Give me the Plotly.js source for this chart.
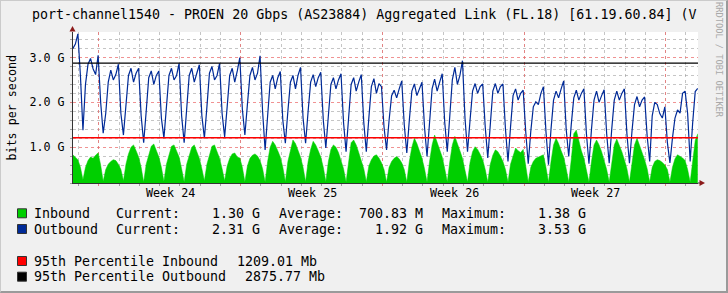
<!DOCTYPE html>
<html><head><meta charset="utf-8">
<script src="https://cdn.plot.ly/plotly-3.0.1.min.js"></script>
<style>
html,body{margin:0;padding:0;background:#F0F0F0;}
#wrap{position:relative;width:728px;height:293px;overflow:hidden;}
#chart{position:absolute;left:0;top:0;width:728px;height:293px;}
#frame{position:absolute;left:0;top:0;width:728px;height:293px;box-sizing:border-box;border-left:1px solid #CBCBCB;border-top:1px solid #CBCBCB;border-right:2px solid #9A9A9A;border-bottom:2px solid #9A9A9A;pointer-events:none;}
</style></head>
<body><div id="wrap"><div id="chart"></div><div id="frame"></div></div>
<script>
// ---- data (G bits/s), 3-hour samples starting Sat 17:00 before Week 24 (hour -31 from Mon wk24 00:00)
const startHour = -31, stepHours = 3;
const outbound = [
 3.20,3.30,3.53,
 2.60,1.38,2.40,2.85,2.98,2.75,2.62,3.05,
 2.00,1.31,1.75,2.45,2.72,2.50,2.62,2.85,
 1.75,1.27,1.95,2.60,2.76,2.45,2.65,2.76,
 1.70,1.10,1.80,2.55,2.70,2.40,2.60,2.70,
 1.65,1.20,1.90,2.60,2.76,2.50,2.60,2.87,
 1.70,1.10,1.85,2.60,2.76,2.45,2.65,2.84,
 1.70,1.20,1.90,2.65,2.80,2.50,2.60,2.87,
 1.75,1.23,1.90,2.60,2.76,2.45,2.70,3.00,
 1.85,1.27,1.95,2.60,2.78,2.50,2.65,3.04,
 1.80,0.94,1.70,2.45,2.60,2.30,2.55,2.69,
 1.60,1.09,1.80,2.45,2.60,2.30,2.60,2.78,
 1.65,1.09,1.80,2.45,2.62,2.35,2.55,2.67,
 1.60,0.98,1.70,2.40,2.55,2.30,2.50,2.64,
 1.55,0.90,1.65,2.40,2.55,2.25,2.45,2.62,
 1.55,0.90,1.65,2.35,2.53,2.20,2.42,2.35,
 1.45,0.94,1.60,2.15,2.27,2.10,2.30,2.48,
 1.50,0.87,1.60,2.25,2.41,2.15,2.30,2.45,
 1.45,0.79,1.55,2.30,2.52,2.25,2.45,2.64,
 1.55,0.90,1.70,2.50,2.78,2.40,2.60,2.93,
 1.65,0.90,1.60,2.25,2.42,2.20,2.35,2.41,
 1.45,0.76,1.50,2.25,2.42,2.20,2.35,2.41,
 1.40,0.68,1.45,2.15,2.30,2.05,2.20,2.27,
 1.35,0.63,1.35,1.90,2.01,1.95,2.20,2.35,
 1.35,0.61,1.40,2.05,2.25,2.10,2.30,2.48,
 1.40,0.79,1.50,2.10,2.27,2.05,2.20,2.30,
 1.30,0.63,1.40,2.05,2.25,2.00,2.15,2.28,
 1.30,0.64,1.40,2.05,2.25,2.05,2.20,2.30,
 1.30,0.64,1.35,1.95,2.13,1.90,2.05,2.12,
 1.25,0.68,1.70,2.00,1.95,1.75,1.65,1.90,
 1.10,0.65,1.20,1.65,1.83,1.76,2.20,2.25,
 1.75,0.68,1.55,2.24,2.31
];
const inbound = [
 0.83,0.78,0.72,
 0.55,0.27,0.55,0.70,0.78,0.75,0.82,0.87,
 0.60,0.24,0.50,0.62,0.68,0.72,0.70,0.62,
 0.50,0.25,0.62,0.85,1.00,1.05,0.92,0.78,
 0.55,0.22,0.62,0.85,1.02,1.07,0.92,0.78,
 0.55,0.24,0.62,0.85,1.02,1.05,0.92,0.78,
 0.52,0.22,0.62,0.82,1.00,1.05,0.92,0.75,
 0.52,0.25,0.62,0.85,1.02,1.05,0.90,0.75,
 0.52,0.25,0.58,0.75,0.85,0.87,0.78,0.76,
 0.55,0.23,0.58,0.75,0.82,0.85,0.80,0.70,
 0.52,0.22,0.68,1.00,1.13,1.05,0.92,0.78,
 0.55,0.23,0.68,0.95,1.16,1.08,0.92,0.78,
 0.55,0.23,0.68,0.95,1.13,1.05,0.92,0.78,
 0.55,0.23,0.68,0.95,1.05,1.00,0.88,0.72,
 0.52,0.22,0.72,1.10,1.16,1.05,0.88,0.72,
 0.52,0.23,0.58,0.72,0.80,0.83,0.76,0.65,
 0.50,0.22,0.55,0.68,0.75,0.79,0.74,0.65,
 0.50,0.22,0.68,1.00,1.20,1.08,0.92,0.75,
 0.52,0.22,0.68,1.05,1.27,1.10,0.92,0.78,
 0.52,0.22,0.68,1.05,1.24,1.10,0.92,0.75,
 0.52,0.22,0.66,0.90,1.01,0.95,0.84,0.72,
 0.50,0.22,0.62,0.82,0.94,0.90,0.80,0.68,
 0.50,0.22,0.62,0.82,0.98,0.92,0.88,0.95,
 0.55,0.22,0.55,0.68,0.75,0.78,0.80,0.83,
 0.55,0.22,0.68,1.05,1.20,1.08,0.92,0.78,
 0.52,0.22,0.72,1.30,1.38,1.12,0.92,0.75,
 0.52,0.22,0.68,1.05,1.16,1.05,0.90,0.72,
 0.50,0.22,0.68,1.05,1.18,1.05,0.90,0.72,
 0.52,0.22,0.68,1.05,1.20,1.05,0.88,0.72,
 0.52,0.22,0.55,0.68,0.72,0.70,0.66,0.60,
 0.50,0.22,0.55,0.74,0.83,0.80,0.76,0.70,
 0.50,0.22,0.70,1.15,1.30
];
const weekStarts = [0, 168, 336, 504, 672];          // Monday 00:00 of each week (hours)
const weekLabelPos = [85, 253, 421, 589];            // label centres (hours)
const weekLabels = ['Week 24', 'Week 25', 'Week 26', 'Week 27'];
const seriesNames = ['Inbound', 'Outbound'];
const statLabels = ['Current:', 'Average:', 'Maximum:'];
const inboundStats = [1.30, 700.83, 1.38];
const inboundUnits = ['G', 'M', 'G'];
const outboundStats = [2.31, 1.92, 3.53];
const outboundUnits = ['G', 'G', 'G'];
const pctLabels = ['95th Percentile Inbound', '95th Percentile Outbound'];
const pctValuesMb = [1209.01, 2875.77];
const titleText = 'port-channel1540 - PROEN 20 Gbps (AS23884) Aggregated Link (FL.18) [61.19.60.84] (V';

// ---- layout helpers
const W = 728, H = 293, L = 73, R = 30, T = 32, B = 110;
const pw = W - L - R, ph = H - T - B;
const px = x => (x - L) / pw;
const py = y => (H - B - y) / ph;
const nb = s => s.replace(/ /g, '\u00a0');
const MONO = 'DejaVu Sans Mono';
const colIn = '#00CF00', colOut = '#002A97';
const xRange = [-30.8, 710.3];

const hours = outbound.map((_, i) => startHour + i * stepHours);

const pctColors = ['#FF0000', '#000000'];
const traces = [
  {type: 'scatter', mode: 'lines', x: hours, y: inbound, fill: 'tozeroy',
   fillcolor: colIn, line: {color: colIn, width: 0.5}, hoverinfo: 'skip', showlegend: false},
  {type: 'scatter', mode: 'lines', x: hours, y: outbound,
   line: {color: colOut, width: 1.2}, hoverinfo: 'skip', showlegend: false}
];
// 95th percentile rules across the whole time range
pctValuesMb.forEach((v, i) => traces.push({type: 'scatter', mode: 'lines', x: xRange,
  y: [v / 1000, v / 1000], line: {color: pctColors[i], width: 1.4}, hoverinfo: 'skip', showlegend: false}));

const ann = [];
const fontLeg = {family: MONO, size: 13.3, color: '#000'};
weekLabels.forEach((t, i) => ann.push({xref: 'x', yref: 'paper', x: weekLabelPos[i], y: py(193),
  text: t, showarrow: false, xanchor: 'center', yanchor: 'middle', font: {family: MONO, size: 11.7, color: '#000'}}));
ann.push({xref: 'paper', yref: 'paper', x: px(11), y: 0.5, text: 'bits per second', textangle: -90,
  showarrow: false, xanchor: 'center', yanchor: 'middle', font: {family: MONO, size: 11.7, color: '#000'}});
ann.push({xref: 'paper', yref: 'paper', x: px(719), y: py(60), text: 'RRDTOOL / TOBI OETIKER', textangle: 90,
  showarrow: false, xanchor: 'center', yanchor: 'middle', font: {family: MONO, size: 8.7, color: '#A8A8A8'}});

const rowY = [213.3, 229, 261, 276.7];
const pieceX = [34.3, 116.3, 279, 442];
const fmt = v => v.toFixed(2).padStart(8);
function addText(x, y, s) {
  ann.push({xref: 'paper', yref: 'paper', x: px(x), y: py(y), text: nb(s), showarrow: false,
    xanchor: 'left', yanchor: 'middle', borderpad: 0, borderwidth: 0, font: fontLeg});
}
[[inboundStats, inboundUnits], [outboundStats, outboundUnits]].forEach(([st, un], r) => {
  addText(pieceX[0], rowY[r], seriesNames[r]);
  st.forEach((v, j) => addText(pieceX[j + 1], rowY[r], statLabels[j] + fmt(v) + ' ' + un[j]));
});
const pctX = [237, 245];
pctLabels.forEach((t, i) => {
  addText(pieceX[0], rowY[2 + i], t);
  addText(pctX[i], rowY[2 + i], pctValuesMb[i].toFixed(2) + ' Mb');
});

const shapes = [];
// legend swatches
const swatch = [colIn, colOut, '#FF0000', '#000000'];
swatch.forEach((c, i) => shapes.push({type: 'rect', xref: 'paper', yref: 'paper',
  x0: px(17.5), x1: px(26.5), y0: py(rowY[i] - 4.5), y1: py(rowY[i] + 4.5),
  fillcolor: c, line: {color: '#333', width: 1}}));
// axis arrows
const arrowC = '#8B1A1A';
shapes.push({type: 'path', xref: 'paper', yref: 'paper',
  path: `M ${px(69.5)},${py(31.5)} L ${px(72.5)},${py(26)} L ${px(75.5)},${py(31.5)} Z`,
  fillcolor: arrowC, line: {width: 0}});
shapes.push({type: 'line', xref: 'paper', yref: 'paper', x0: 1, x1: px(700), y0: 0, y1: 0,
  line: {color: '#333', width: 1}});
shapes.push({type: 'path', xref: 'paper', yref: 'paper',
  path: `M ${px(699.5)},${py(180)} L ${px(705)},${py(183)} L ${px(699.5)},${py(186)} Z`,
  fillcolor: arrowC, line: {width: 0}});

const majorGrid = 'rgba(235,110,110,0.75)', minorGrid = 'rgba(150,150,150,0.55)';
const layout = {
  width: W, height: H,
  margin: {l: L, r: R, t: T, b: B, pad: 0},
  paper_bgcolor: '#F0F0F0', plot_bgcolor: '#FFFFFF',
  showlegend: false,
  title: {text: titleText, font: {family: MONO, size: 13.3, color: '#000'},
    xref: 'container', yref: 'container', x: 32 / W, xanchor: 'left', y: 1 - 14 / H, yanchor: 'middle'},
  xaxis: {range: xRange, tickmode: 'array', tickvals: weekStarts, showticklabels: false,
    showgrid: true, gridcolor: majorGrid, griddash: 'dot', gridwidth: 1,
    ticks: 'outside', ticklen: 2, tickcolor: '#E08080',
    showline: true, linecolor: '#333', linewidth: 1, zeroline: false, fixedrange: true,
    minor: {tickmode: 'linear', tick0: 0, dtick: 24, showgrid: true, gridcolor: minorGrid, griddash: 'dot',
      gridwidth: 1, ticks: 'outside', ticklen: 2, tickcolor: '#A0A0A0'}},
  yaxis: {range: [0.2, 3.57], tickmode: 'linear', tick0: 0, dtick: 1, tickformat: '.1f', ticksuffix: ' G',
    tickfont: {family: MONO, size: 11.7, color: '#000'}, ticklabelstandoff: 3,
    showgrid: true, gridcolor: majorGrid, griddash: 'dot', gridwidth: 1,
    ticks: 'outside', ticklen: 2, tickcolor: '#E08080',
    showline: true, linecolor: '#333', linewidth: 1, zeroline: false, fixedrange: true,
    minor: {tickmode: 'linear', tick0: 0, dtick: 0.2, showgrid: true, gridcolor: minorGrid, griddash: 'dot',
      gridwidth: 1, ticks: 'outside', ticklen: 2, tickcolor: '#A0A0A0'}},
  annotations: ann,
  shapes: shapes
};
Plotly.newPlot('chart', traces, layout, {displayModeBar: false, staticPlot: true});
</script></body></html>
